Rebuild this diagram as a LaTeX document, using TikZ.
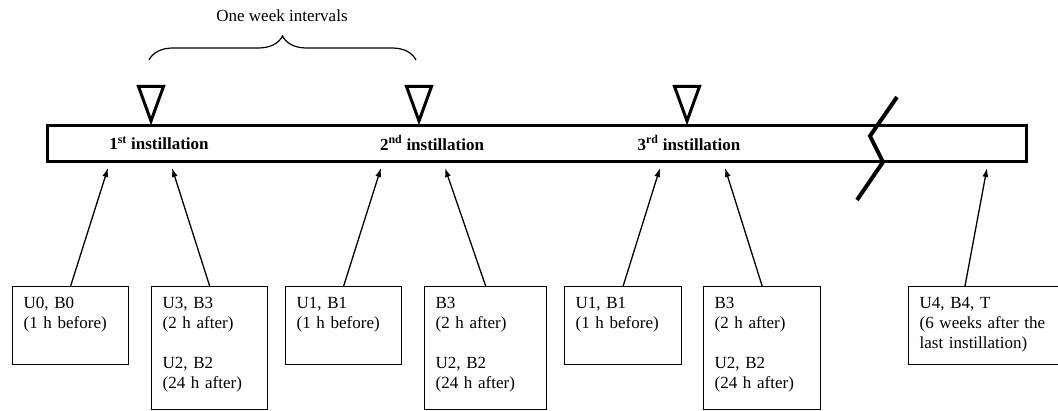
\documentclass[tikz,border=0pt]{standalone}
\usepackage{fontspec}
\setmainfont{Liberation Serif}
\usetikzlibrary{arrows.meta,decorations.pathreplacing,calc}

\begin{document}
	\begin{tikzpicture}[x=1pt, y=-1pt,
		txt/.style={font=\fontsize{17}{20}\selectfont},
		sample/.style={txt, draw, line width=1.3pt, anchor=north west, align=left,
			text width=#1, inner xsep=11pt, inner ysep=0pt, text height=22pt},
		shortbox/.style={sample=#1, text depth=56pt},
		tallbox/.style={sample=#1, text depth=101pt},
		wedge/.style={line width=3pt, line join=miter},
		pointer/.style={line width=1.3pt, -{Latex[length=9pt,width=6pt]}}]
		
		\useasboundingbox (0,0) rectangle (1058,411);
		
		% time bar
		\draw[line width=3pt] (47.5,125.5) rectangle (1026.5,162);
		\node[txt, font=\fontsize{17}{20}\selectfont\bfseries] (i1) at (159,143) {1\textsuperscript{st} instillation};
		\node[txt, font=\fontsize{17}{20}\selectfont\bfseries] (i2) at (432,143) {2\textsuperscript{nd} instillation};
		\node[txt, font=\fontsize{17}{20}\selectfont\bfseries] (i3) at (689,143) {3\textsuperscript{rd} instillation};
		
		% instillation marks
		\foreach \x in {151,419,687}
			\draw[wedge] (\x-12.5,86.5) -- (\x+12.5,86.5) -- (\x,121) -- cycle;
		
		% one week
		\coordinate (w1) at (149,60);
		\coordinate (w2) at (416,60);
		\draw[line width=1.2pt, decorate, decoration={brace, amplitude=24pt}] (w1) -- (w2);
		\node[txt] (wk) at (282,16) {One week intervals};
		
		% break in the time line
		\draw[line width=4pt] (897,97) -- (870,136) -- (883,162) -- (857,200);
		
		% sampling points
		\foreach \n/\x in {1/108,2/172,3/381,4/445,5/660,6/725,7/987}
			\coordinate (a\n) at (\x,168);
		
		\node[shortbox=94pt] (b1) at (12,286) {U0, B0\\(1 h before)};
		\node[tallbox=94pt] (b2) at (151,286) {U3, B3\\(2 h after)\\[20pt]U2, B2\\(24 h after)};
		\node[shortbox=94pt] (b3) at (285,286) {U1, B1\\(1 h before)};
		\node[tallbox=100pt] (b4) at (424,286) {B3\\(2 h after)\\[20pt]U2, B2\\(24 h after)};
		\node[shortbox=95pt] (b5) at (564,286) {U1, B1\\(1 h before)};
		\node[tallbox=95pt] (b6) at (703,286) {B3\\(2 h after)\\[20pt]U2, B2\\(24 h after)};
		\node[shortbox=140pt] (b7) at (908,286) {U4, B4, T\\(6 weeks after the\\last instillation)};
		
		\draw[pointer] (b1.north) -- (a1);
		\draw[pointer] (b2.north) -- (a2);
		\draw[pointer] (b3.north) -- (a3);
		\draw[pointer] (b4.north) -- (a4);
		\draw[pointer] (b5.north) -- (a5);
		\draw[pointer] (b6.north) -- (a6);
		\draw[pointer] ($(b7.north west)+(57,0)$) -- (a7);
		
	\end{tikzpicture}
\end{document}
